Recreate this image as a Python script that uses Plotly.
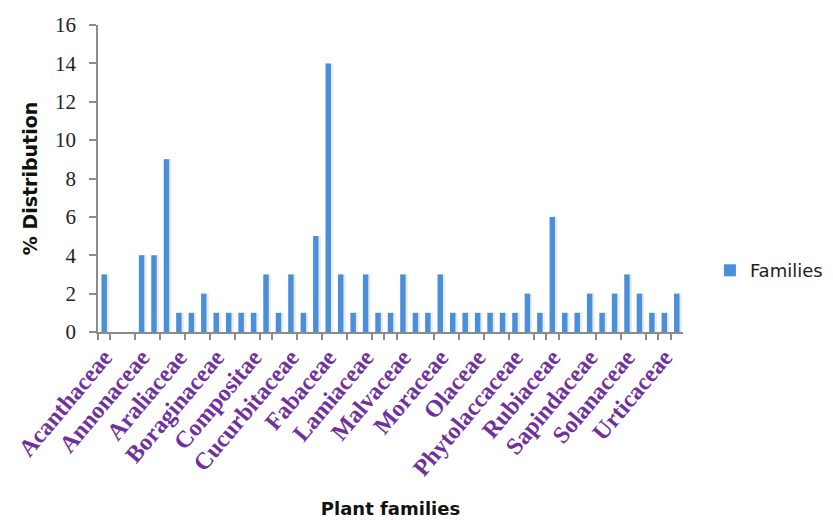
import plotly.graph_objects as go

# Percentage distribution of species across plant families (47 families)
distribution = [3, 0, 0, 4, 4, 9, 1, 1, 2, 1, 1, 1, 1, 3, 1, 3, 1, 5, 14, 3,
                1, 3, 1, 1, 3, 1, 1, 3, 1, 1, 1, 1, 1, 1, 2, 1, 6, 1, 1, 2,
                1, 2, 3, 2, 1, 1, 2]

# Every third family is named on the axis
labelled_families = ["Acanthaceae", "Annonaceae", "Araliaceae", "Boraginaceae",
                     "Compositae", "Cucurbitaceae", "Fabaceae", "Lamiaceae",
                     "Malvaceae", "Moraceae", "Olaceae", "Phytolaccaceae",
                     "Rubiaceae", "Sapindaceae", "Solanaceae", "Urticaceae"]
label_step = 3

y_ticks = [0, 2, 4, 6, 8, 10, 12, 14, 16]

positions = list(range(len(distribution)))
label_positions = positions[::label_step]

bar_width = 0.44
fig = go.Figure()

# soft drop shadow behind each bar
fig.add_trace(go.Bar(
    x=positions, y=distribution,
    width=bar_width + 0.16, offset=-bar_width / 2 + 0.02,
    marker=dict(color="rgba(120,120,120,0.15)", line=dict(width=0)),
    showlegend=False, hoverinfo="skip",
))
fig.add_trace(go.Bar(
    x=positions, y=distribution, name="Families",
    width=bar_width, offset=-bar_width / 2,
    marker=dict(color="#4A8FDA", line=dict(width=0)),
))

# tick marks along the category axis sit on category boundaries
boundary_ticks = [-0.5, 0.5, 2.5, 4.5, 6.5, 8.5, 10.5, 12.5, 13.5, 15.5, 17.5,
                  19.5, 21.5, 22.5, 23.5, 26.5, 28.5, 30.5, 32.5, 34.5, 35.5,
                  36.5, 39.5, 41.5, 43.5, 44.5, 45.5]

fig.update_layout(
    width=833, height=520,
    margin=dict(l=98, r=150, t=25, b=188, autoexpand=False),
    paper_bgcolor="white", plot_bgcolor="white",
    barmode="overlay",
    font=dict(family="DejaVu Sans, Arial, sans-serif", color="#222222"),
    legend=dict(x=1.046, y=0.2, xanchor="left", yanchor="middle",
                font=dict(size=18, color="#222222"),
                itemsizing="constant"),
    showlegend=True,
)

fig.update_xaxes(
    range=[-0.5, len(distribution) - 0.5],
    tickmode="array", tickvals=label_positions, ticktext=labelled_families,
    tickangle=-50, ticks="", showgrid=False, zeroline=False,
    tickfont=dict(family="Liberation Serif, Times New Roman, serif",
                  size=24, color="#7030A0", weight="bold"),
    showline=True, linecolor="#8C8C8C", linewidth=1.5,
    minor=dict(tickvals=boundary_ticks, ticks="outside", ticklen=6,
               tickcolor="#8C8C8C", tickwidth=1.5, showgrid=False),
    title=dict(text="<b>Plant families</b>",
               font=dict(family="DejaVu Sans, sans-serif", size=18, color="#111111"),
               standoff=22),
    automargin=False,
)

fig.update_yaxes(
    range=[0, 16], tickvals=y_ticks,
    ticks="outside", ticklen=7, tickcolor="#8C8C8C", tickwidth=1.5,
    ticklabelstandoff=9,
    showgrid=False, zeroline=False,
    showline=True, linecolor="#8C8C8C", linewidth=1.5,
    tickfont=dict(family="Liberation Serif, Times New Roman, serif",
                  size=21, color="#222222"),
    title=dict(text="<b>% Distribution</b>",
               font=dict(family="DejaVu Sans, sans-serif", size=19, color="#111111"),
               standoff=12),
    automargin=False,
)

fig.write_html("out.html")
